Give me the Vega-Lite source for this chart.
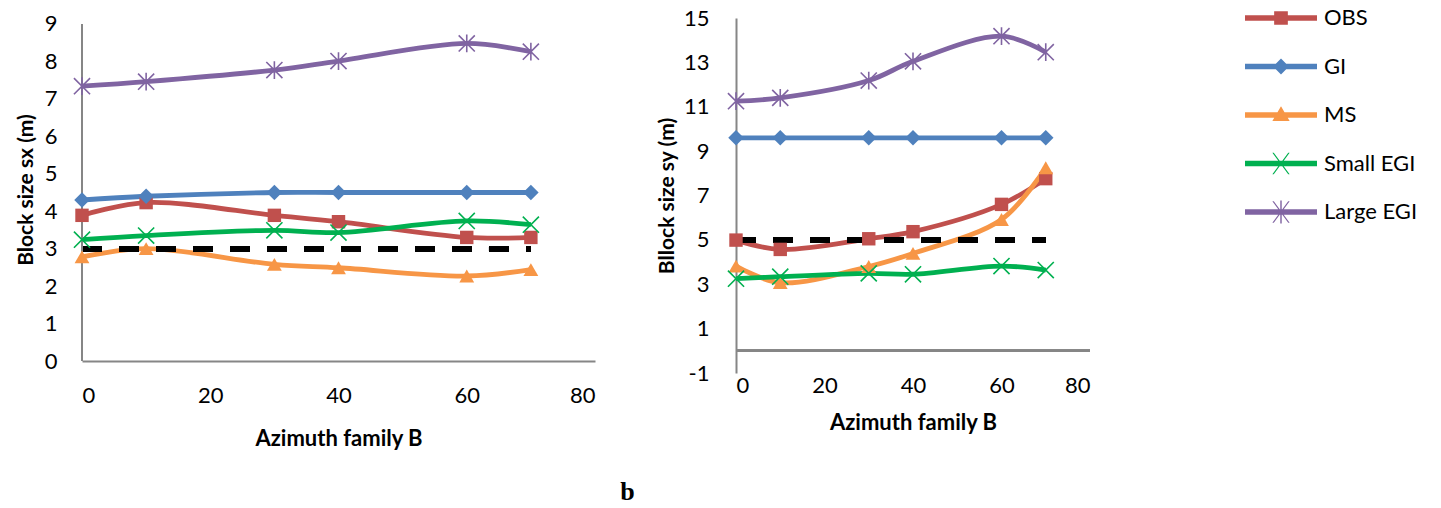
{
  "$schema": "https://vega.github.io/schema/vega-lite/v6.json",
  "background": "white",
  "padding": {"left": 15, "top": 5, "right": 0, "bottom": 0},
  "bounds": "flush",
  "spacing": 141,
  "title": {"text": "b", "orient": "bottom", "font": "Liberation Serif", "fontSize": 26, "fontWeight": "bold", "color": "#000", "anchor": "start", "dx": 605, "offset": 30},
  "datasets": {
    "sx": [
      {"az": 0, "series": "OBS", "val": 3.89}, {"az": 10, "series": "OBS", "val": 4.23}, {"az": 30, "series": "OBS", "val": 3.89}, {"az": 40, "series": "OBS", "val": 3.72}, {"az": 60, "series": "OBS", "val": 3.3}, {"az": 70, "series": "OBS", "val": 3.3},
      {"az": 0, "series": "GI", "val": 4.3}, {"az": 10, "series": "GI", "val": 4.4}, {"az": 30, "series": "GI", "val": 4.5}, {"az": 40, "series": "GI", "val": 4.5}, {"az": 60, "series": "GI", "val": 4.5}, {"az": 70, "series": "GI", "val": 4.5},
      {"az": 0, "series": "MS", "val": 2.78}, {"az": 10, "series": "MS", "val": 3.0}, {"az": 30, "series": "MS", "val": 2.58}, {"az": 40, "series": "MS", "val": 2.49}, {"az": 60, "series": "MS", "val": 2.27}, {"az": 70, "series": "MS", "val": 2.44},
      {"az": 0, "series": "Small EGI", "val": 3.24}, {"az": 10, "series": "Small EGI", "val": 3.35}, {"az": 30, "series": "Small EGI", "val": 3.49}, {"az": 40, "series": "Small EGI", "val": 3.43}, {"az": 60, "series": "Small EGI", "val": 3.74}, {"az": 70, "series": "Small EGI", "val": 3.64},
      {"az": 0, "series": "Large EGI", "val": 7.34}, {"az": 10, "series": "Large EGI", "val": 7.46}, {"az": 30, "series": "Large EGI", "val": 7.77}, {"az": 40, "series": "Large EGI", "val": 8.01}, {"az": 60, "series": "Large EGI", "val": 8.48}, {"az": 70, "series": "Large EGI", "val": 8.26}
    ],
    "sy": [
      {"az": 0, "series": "OBS", "val": 4.99}, {"az": 10, "series": "OBS", "val": 4.57}, {"az": 30, "series": "OBS", "val": 5.05}, {"az": 40, "series": "OBS", "val": 5.37}, {"az": 60, "series": "OBS", "val": 6.6}, {"az": 70, "series": "OBS", "val": 7.76},
      {"az": 0, "series": "GI", "val": 9.6}, {"az": 10, "series": "GI", "val": 9.6}, {"az": 30, "series": "GI", "val": 9.6}, {"az": 40, "series": "GI", "val": 9.6}, {"az": 60, "series": "GI", "val": 9.6}, {"az": 70, "series": "GI", "val": 9.6},
      {"az": 0, "series": "MS", "val": 3.82}, {"az": 10, "series": "MS", "val": 3.07}, {"az": 30, "series": "MS", "val": 3.8}, {"az": 40, "series": "MS", "val": 4.39}, {"az": 60, "series": "MS", "val": 5.92}, {"az": 70, "series": "MS", "val": 8.25},
      {"az": 0, "series": "Small EGI", "val": 3.25}, {"az": 10, "series": "Small EGI", "val": 3.34}, {"az": 30, "series": "Small EGI", "val": 3.49}, {"az": 40, "series": "Small EGI", "val": 3.45}, {"az": 60, "series": "Small EGI", "val": 3.82}, {"az": 70, "series": "Small EGI", "val": 3.64},
      {"az": 0, "series": "Large EGI", "val": 11.25}, {"az": 10, "series": "Large EGI", "val": 11.4}, {"az": 30, "series": "Large EGI", "val": 12.18}, {"az": 40, "series": "Large EGI", "val": 13.05}, {"az": 60, "series": "Large EGI", "val": 14.18}, {"az": 70, "series": "Large EGI", "val": 13.46}
    ]
  },
  "hconcat": [
    {
      "width": 513,
      "height": 343,
      "data": {"name": "sx"},
      "encoding": {
        "x": {"field": "az", "type": "quantitative", "scale": {"domain": [0, 80], "nice": false, "zero": false}, "axis": {"title": "Azimuth family B", "values": [0, 20, 40, 60, 80], "labelPadding": 24, "titlePadding": 22}},
        "y": {"field": "val", "type": "quantitative", "scale": {"domain": [0, 9.16], "nice": false}, "axis": {"title": "Block size sx (m)", "titleFontSize": 21, "values": [0, 1, 2, 3, 4, 5, 6, 7, 8, 9], "domain": false, "labelPadding": 25, "titlePadding": 8}}
      },
      "layer": [
        {"mark": {"type": "line", "interpolate": "catmull-rom", "strokeWidth": 4.8}, "encoding": {"stroke": {"field": "series", "type": "nominal", "scale": {"domain": ["GI", "Large EGI", "MS", "OBS", "Small EGI"], "range": ["#4F81BD", "#8064A2", "#F79646", "#C0504D", "#00B050"]}, "legend": null}}},
        {"mark": {"type": "rule", "color": "#000", "strokeWidth": 5, "strokeDash": [20, 17]}, "encoding": {"x": {"datum": 0}, "x2": {"datum": 70}, "y": {"datum": 3}}},
        {"mark": {"type": "rule", "color": "#868686", "strokeWidth": 2}, "encoding": {"x": {"datum": 0}, "y": {"datum": 0}, "y2": {"datum": 9}}},
        {"transform": [{"filter": "datum.series === 'OBS'"}], "mark": {"type": "point", "shape": "square", "filled": true, "color": "#C0504D", "size": 180, "opacity": 1}},
        {"transform": [{"filter": "datum.series === 'GI'"}], "mark": {"type": "point", "shape": "diamond", "filled": true, "color": "#4F81BD", "size": 240, "opacity": 1}},
        {"transform": [{"filter": "datum.series === 'MS'"}], "mark": {"type": "point", "shape": "triangle-up", "filled": true, "color": "#F79646", "size": 220, "opacity": 1}},
        {"transform": [{"filter": "datum.series === 'Small EGI'"}], "mark": {"type": "point", "shape": "M-1,-1L1,1M-1,1L1,-1", "filled": false, "color": "#00B050", "strokeWidth": 1.6, "size": 260, "opacity": 1}},
        {"transform": [{"filter": "datum.series === 'Large EGI'"}], "mark": {"type": "point", "shape": "M-1,-1L1,1M-1,1L1,-1M0,-1.1L0,1.1", "filled": false, "color": "#8064A2", "strokeWidth": 1.6, "size": 260, "opacity": 1}},
        {"transform": [{"filter": "datum.az > 1000"}], "mark": {"type": "point", "filled": true, "opacity": 1},
          "encoding": {
            "color": {"field": "series", "type": "nominal", "scale": {"domain": ["OBS", "GI", "MS", "Small EGI", "Large EGI"], "range": ["#C0504D", "#4F81BD", "#F79646", "#00B050", "#8064A2"]},
              "legend": {"title": null, "orient": "none", "legendX": 1163, "legendY": -13, "symbolSize": 5184, "symbolStrokeWidth": 0, "clipHeight": 26, "labelOffset": 7, "rowPadding": 22.5, "padding": 0}},
            "shape": {"field": "series", "type": "nominal", "scale": {"domain": ["OBS", "GI", "MS", "Small EGI", "Large EGI"], "range": [
              "M-1,-0.075H1V0.075H-1Z M-0.19,-0.19H0.19V0.19H-0.19Z",
              "M-1,-0.075H1V0.075H-1Z M0,-0.22L0.22,0L0,0.22L-0.22,0Z",
              "M-1,-0.075H1V0.075H-1Z M0,-0.24L0.24,0.17L-0.24,0.17Z",
              "M-1,-0.075H1V0.075H-1Z M-0.24,-0.3L-0.2,-0.3L0.24,0.3L0.2,0.3Z M0.2,-0.3L0.24,-0.3L-0.2,0.3L-0.24,0.3Z",
              "M-1,-0.075H1V0.075H-1Z M-0.24,-0.3L-0.2,-0.3L0.24,0.3L0.2,0.3Z M0.2,-0.3L0.24,-0.3L-0.2,0.3L-0.24,0.3Z M-0.02,-0.32H0.02V0.32H-0.02Z"
            ]}, "legend": {"title": null, "orient": "none", "legendX": 1163, "legendY": -13, "symbolSize": 5184, "symbolStrokeWidth": 0, "clipHeight": 26, "labelOffset": 7, "rowPadding": 22.5, "padding": 0}}
          }
        }
      ]
    },
    {
      "width": 354,
      "height": 355,
      "data": {"name": "sy"},
      "encoding": {
        "x": {"field": "az", "type": "quantitative", "scale": {"domain": [0, 80], "nice": false, "zero": false}, "axis": {"title": "Azimuth family B", "values": [0, 20, 40, 60, 80], "domain": false, "labelPadding": 2, "titlePadding": 16}},
        "y": {"field": "val", "type": "quantitative", "scale": {"domain": [-1, 15], "nice": false}, "axis": {"title": "Bllock size sy (m)", "titleFontSize": 21, "values": [-1, 1, 3, 5, 7, 9, 11, 13, 15], "labelExpr": "'' + datum.value", "labelPadding": 27, "titlePadding": 6}}
      },
      "layer": [
        {"mark": {"type": "line", "interpolate": "catmull-rom", "strokeWidth": 4.8}, "encoding": {"stroke": {"field": "series", "type": "nominal", "scale": {"domain": ["GI", "Large EGI", "MS", "OBS", "Small EGI"], "range": ["#4F81BD", "#8064A2", "#F79646", "#C0504D", "#00B050"]}, "legend": null}}},
        {"mark": {"type": "rule", "color": "#000", "strokeWidth": 5, "strokeDash": [20, 17]}, "encoding": {"x": {"datum": 0}, "x2": {"datum": 70}, "y": {"datum": 5}}},
        {"mark": {"type": "rule", "color": "#868686", "strokeWidth": 2}, "encoding": {"y": {"datum": 0}, "x": {"datum": 0}, "x2": {"datum": 80}}},
        {"transform": [{"filter": "datum.series === 'OBS'"}], "mark": {"type": "point", "shape": "square", "filled": true, "color": "#C0504D", "size": 180, "opacity": 1}},
        {"transform": [{"filter": "datum.series === 'GI'"}], "mark": {"type": "point", "shape": "diamond", "filled": true, "color": "#4F81BD", "size": 240, "opacity": 1}},
        {"transform": [{"filter": "datum.series === 'MS'"}], "mark": {"type": "point", "shape": "triangle-up", "filled": true, "color": "#F79646", "size": 220, "opacity": 1}},
        {"transform": [{"filter": "datum.series === 'Small EGI'"}], "mark": {"type": "point", "shape": "M-1,-1L1,1M-1,1L1,-1", "filled": false, "color": "#00B050", "strokeWidth": 1.6, "size": 260, "opacity": 1}},
        {"transform": [{"filter": "datum.series === 'Large EGI'"}], "mark": {"type": "point", "shape": "M-1,-1L1,1M-1,1L1,-1M0,-1.1L0,1.1", "filled": false, "color": "#8064A2", "strokeWidth": 1.6, "size": 260, "opacity": 1}}
      ]
    }
  ],
  "config": {
    "view": {"stroke": null},
    "axis": {"grid": false, "ticks": false, "labelFont": "Lato", "labelFontSize": 22, "labelColor": "#000", "titleFont": "Lato", "titleFontWeight": "bold", "titleFontSize": 22, "titleColor": "#000", "domainColor": "#868686", "domainWidth": 2},
    "legend": {"labelFont": "Lato", "labelFontSize": 22, "labelColor": "#000"}
  }
}
